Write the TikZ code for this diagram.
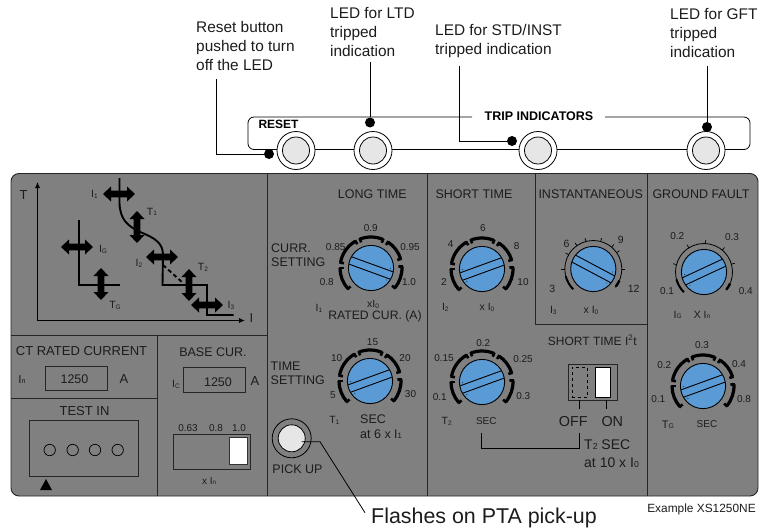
\documentclass[tikz,border=0pt]{standalone}
\usepackage{fontspec}
\usetikzlibrary{arrows.meta}
\setmainfont{Liberation Sans}
\definecolor{panel}{HTML}{808080}
\definecolor{knobblue}{HTML}{5B9BD5}
\definecolor{ledgrey}{HTML}{E6E6E6}
\definecolor{ink}{HTML}{1C1C1C}
\newcommand\Sb[1]{\raisebox{-0.05ex}{\scalebox{0.62}{#1}}}
\newcommand\lab[6][center]{\node[anchor=#1,inner sep=0pt,text=ink,font=\fontsize{#5}{#5}\selectfont,text height=#5*0.72pt,text depth=0pt] (#2) at (#3,#4) {#6};}
\newcommand\knobface[3]{%
 \fill[knobblue] (0,0) circle (22.6);
 \begin{scope}[rotate=#3]
  \draw[line width=.9pt] (-22,3.9) -- (22,3.9) (-22,-3.9) -- (22,-3.9);
  \fill (18.5,6.5) circle (.5) (18.5,-6) circle (.5);
 \end{scope}
 \draw[line width=.9pt] (0,0) circle (22.6);}
\newcommand\seg[2]{%
 \draw[line width=3.2pt] (#1:31) arc[start angle=#1,end angle=#2,radius=31];
 \draw[line width=2.6pt] (#1:32) -- (#1:27.5);
 \draw[line width=2.6pt] (#2:32) -- (#2:27.5);}
\newcommand\knobfive[3]{%
 \begin{scope}[shift={(#1,#2)},y=1pt]
  \seg{111}{67}\seg{57}{17}\seg{3}{-40}\seg{120}{170}\seg{180}{222}
  \knobface{#1}{#2}{#3}
 \end{scope}}
\newcommand\knobthin[4]{%
 \begin{scope}[shift={(#1,#2)},y=1pt]
  \draw[line width=.8pt] (225:28.5) arc[start angle=225,end angle=-40,radius=28.5];
  \draw[line width=2pt] (225:28.5) arc[start angle=225,end angle=195,radius=28.5];
  \draw[line width=2.4pt] (-38:28.5) arc[start angle=-38,end angle=-24,radius=28.5];
  \foreach \a in {#4} \draw[line width=.7pt] (\a:28.5) -- (\a:32);
  \knobface{#1}{#2}{#3}
 \end{scope}}
\newcommand\fat[3]{%
 \fill[shift={(#1,#2)},rotate=#3] (-16,0) -- (-8,-7.5) -- (-8,-3.3) -- (8,-3.3) -- (8,-7.5) -- (16,0) -- (8,7.5) -- (8,3.3) -- (-8,3.3) -- (-8,7.5) -- cycle;}
\tikzset{
 edge/.style={draw=black!85,line width=.9pt},
 curve/.style={line width=1.9pt,black},
 ledout/.style={circle,draw=black,line width=.8pt,fill=white,minimum size=38pt,inner sep=0pt},
 ledin/.style={circle,draw=black,line width=.8pt,fill=ledgrey,minimum size=27pt,inner sep=0pt},
 hit/.style={circle,fill=black,minimum size=10pt,inner sep=0pt},
 lead/.style={line width=.8pt,black}
}
\begin{document}
\begin{tikzpicture}[x=1pt,y=-1pt]
\useasboundingbox (0,0) rectangle (776,530);
% trip indicator strip
\draw[lead,rounded corners=6pt] (472,117) -- (248,117) -- (248,149.5) -- (750,149.5) -- (750,117) -- (605,117);
\node[font=\fontsize{12.5}{12.5}\selectfont\bfseries,inner sep=0pt,text height=9pt,text depth=0pt] (trip) at (539,116) {TRIP INDICATORS};
\node[font=\fontsize{12}{12}\selectfont\bfseries,inner sep=0pt,text height=8.6pt,text depth=0pt] (reset) at (278.5,124.6) {RESET};
\foreach \n/\x in {rst/296,ltd/373,std/538,gft/706}{
 \node[ledout] (\n o) at (\x,150.5) {};
 \node[ledin] (\n i) at (\x,150.5) {};
}
\node[hit] (drst) at (269,154) {};
\node[hit] (dltd) at (370,122.5) {};
\node[hit] (dstd) at (512,141) {};
\node[hit] (dgft) at (707,127) {};
% callouts
\node[anchor=north west,inner sep=0pt,align=left,text=ink,font=\fontsize{15.4}{19}\selectfont] (crst) at (196,21) {Reset button\\pushed to turn\\off the LED};
\node[anchor=north west,inner sep=0pt,align=left,text=ink,font=\fontsize{15.4}{19}\selectfont] (cltd) at (330,7.5) {LED for LTD\\tripped\\indication};
\node[anchor=north west,inner sep=0pt,align=left,text=ink,font=\fontsize{15.4}{19}\selectfont] (cstd) at (435,24.5) {LED for STD/INST\\tripped indication};
\node[anchor=north west,inner sep=0pt,align=left,text=ink,font=\fontsize{15.4}{19}\selectfont] (cgft) at (670,8.5) {LED for GFT\\tripped\\indication};
\coordinate (arst) at (216,79);
\coordinate (altd) at (370,62);
\coordinate (astd) at (459,66);
\coordinate (agft) at (707,66);
\draw[lead] (arst) |- (drst);
\draw[lead] (altd) -- (dltd);
\draw[lead] (astd) |- (dstd);
\draw[lead] (agft) -- (dgft);
% panel
\draw[edge,fill=panel,rounded corners=8pt] (11,173.5) rectangle (758,496);
\draw[edge] (267.5,173.5) -- (267.5,496);
\draw[edge] (427,173.5) -- (427,496);
\draw[edge] (647.5,173.5) -- (647.5,496);
\draw[edge] (535.5,173.5) -- (535.5,324.5) -- (647.5,324.5);
\draw[edge] (11,335) -- (267.5,335);
\draw[edge] (157.5,335) -- (157.5,496);
\draw[edge] (11,398) -- (157.5,398);
% graph
\draw[line width=.9pt,-{Latex[length=6pt,width=5pt]}] (37.5,320.5) -- (37.5,182);
\draw[line width=.9pt,-{Latex[length=6pt,width=5pt]}] (37.5,320.5) -- (245,320.5);
\draw[curve] (119.5,178) -- (119.5,203) .. controls (120,220) and (128,226) .. (140,232) .. controls (155,238) and (163,243) .. (163,255) -- (162.5,285) -- (207,285) -- (207,315) -- (233.5,315);
\draw[curve,dashed,dash pattern=on 4pt off 3pt] (163,265) -- (183,283);
\draw[curve] (79,220) -- (79,285) -- (119.5,285);
\fat{119}{194}{0}\fat{137}{227}{90}\fat{77}{247}{0}\fat{162}{257}{0}\fat{189}{285}{90}\fat{101}{284}{90}\fat{207}{305}{0}
\lab{lT}{23.5}{195}{13}{T}
\lab{lI}{251.5}{318}{13}{I}
\lab{gi1}{94.5}{194}{10.5}{I\Sb{1}}
\lab{gt1}{152}{211.5}{10.5}{T\Sb{1}}
\lab{gig}{103}{249}{10.5}{I\Sb{G}}
\lab{gi2}{139}{263}{10.5}{I\Sb{2}}
\lab{gt2}{203}{267}{10.5}{T\Sb{2}}
\lab{gtg}{115}{305}{10.5}{T\Sb{G}}
\lab{gi3}{231}{305}{10.5}{I\Sb{3}}
% CT rated
\lab{ct}{81.5}{351}{13}{CT RATED CURRENT}
\lab{ctin}{22}{379}{11.5}{I\Sb{n}}
\node[edge,minimum width=62.5pt,minimum height=24pt,inner sep=0pt] (ctbox) at (76.3,378) {};
\lab{ctv}{74.5}{379}{12.5}{1250}
\lab{cta}{124}{379}{13}{A}
% base
\lab{bc}{213}{352}{12.5}{BASE CUR.}
\lab{bic}{176}{384}{10.5}{I\Sb{C}}
\node[edge,minimum width=62.5pt,minimum height=24.5pt,inner sep=0pt] (bbox) at (214.3,380) {};
\lab{bv}{218}{382}{12.5}{1250}
\lab{ba}{255}{381}{13}{A}
\lab{s1}{188}{427.7}{10}{0.63}
\lab{s2}{216}{427.7}{10}{0.8}
\lab{s3}{239}{427.7}{10}{1.0}
\node[edge,minimum width=77pt,minimum height=35pt,inner sep=0pt] (sbox) at (212,451.7) {};
\node[draw=black!80,line width=.8pt,fill=white,minimum width=18pt,minimum height=27.5pt,inner sep=0pt] (sw) at (238.2,451) {};
\lab{xin}{209}{481}{10}{x I\Sb{n}}
% test in
\lab{ti}{84.5}{410.5}{13}{TEST IN}
\node[edge,minimum width=108.5pt,minimum height=56.5pt,inner sep=0pt] (tbox) at (83.7,448.3) {};
\foreach \n/\x in {a/49.7,b/72.7,c/95,d/117.7}
 \node[circle,draw=black,line width=.7pt,minimum size=11.4pt,inner sep=0pt] (t\n) at (\x,450) {};
\fill (40,490) -- (46,479) -- (52,490) -- cycle;
% long time
\lab{lt}{372.3}{194.3}{12.5}{LONG TIME}
\node[anchor=north west,inner sep=0pt,align=left,text=ink,font=\fontsize{12.5}{14.5}\selectfont] (curr) at (271,243.5) {CURR.\\SETTING};
\knobfive{371}{268}{-20}
\lab{a1}{370.7}{227.7}{10}{0.9}
\lab{a2}{335.7}{247.3}{10}{0.85}
\lab{a3}{410}{247}{10}{0.95}
\lab{a4}{326.7}{281.7}{10}{0.8}
\lab{a5}{409}{281.7}{10}{1.0}
\lab{a6}{373}{304}{10.5}{xI\Sb{0}}
\lab{a7}{319}{308}{10.5}{I\Sb{1}}
\lab{a8}{375}{315.5}{12.2}{RATED CUR. (A)}
\node[anchor=north west,inner sep=0pt,align=left,text=ink,font=\fontsize{12.5}{14.5}\selectfont] (tset) at (270.5,361.5) {TIME\\SETTING};
\knobfive{370}{381}{200}
\lab{b1}{372.5}{341.7}{10}{15}
\lab{b2}{336.7}{358}{10}{10}
\lab{b3}{405}{358}{10}{20}
\lab{b4}{333}{395}{10}{5}
\lab{b5}{410.5}{393.7}{10}{30}
\lab{b6}{334.3}{420}{10.5}{T\Sb{1}}
\lab[west]{b7}{360}{418.7}{12.5}{SEC}
\lab[west]{b8}{360}{434}{12.5}{at 6 x I\Sb{1}}
\node[circle,draw=black,line width=.8pt,minimum size=39pt,inner sep=0pt] (pu) at (291.7,438.3) {};
\node[circle,draw=black,line width=.8pt,fill=ledgrey,minimum size=27pt,inner sep=0pt] (pui) at (291.7,438.3) {};
\lab{pl}{297.5}{469}{12.5}{PICK UP}
\lab[west]{fl}{371}{516}{21.4}{Flashes on PTA pick-up}
\coordinate (fk) at (320,441.7);
\coordinate (fe) at (365,512.7);
\draw[lead] (pui.center) ++(10,3.4) -- (fk) -- (fe);
% short time
\lab{st}{474}{194.3}{12.5}{SHORT TIME}
\knobfive{482}{269}{200}
\lab{c1}{483}{227.7}{10}{6}
\lab{c2}{450.7}{244}{10}{4}
\lab{c3}{516.7}{245.7}{10}{8}
\lab{c4}{444}{281.7}{10}{2}
\lab{c5}{523}{281.7}{10}{10}
\lab{c6}{445.3}{307}{10.5}{I\Sb{2}}
\lab{c7}{487}{307}{10.5}{x I\Sb{0}}
\knobfive{482}{382}{200}
\lab{d1}{483.3}{343.3}{10}{0.2}
\lab{d2}{444}{358}{10}{0.15}
\lab{d3}{523}{358.7}{10}{0.25}
\lab{d4}{439.7}{396.7}{10}{0.1}
\lab{d5}{523.3}{395.7}{10}{0.3}
\lab{d6}{446.7}{421}{10.5}{T\Sb{2}}
\lab{d7}{486.3}{420.7}{10}{SEC}
% instantaneous
\lab{in}{590.7}{194.3}{12.5}{INSTANTANEOUS}
\knobthin{593.3}{269}{-28}{180,150,125,105,75,50,35,0}
\lab{e1}{566.5}{243.7}{10.5}{6}
\lab{e2}{620.7}{239.7}{10.5}{9}
\lab{e3}{552.3}{288.7}{10.5}{3}
\lab{e4}{633.7}{288.7}{10.5}{12}
\lab{e5}{553.3}{310}{10.5}{I\Sb{3}}
\lab{e6}{591}{310}{10.5}{x I\Sb{0}}
% short time I2t
\lab{sh}{592.3}{340.7}{12}{SHORT TIME I\textsuperscript{2}t}
\node[edge,minimum width=49pt,minimum height=36pt,inner sep=0pt] (swb) at (593.2,382) {};
\node[draw=black,line width=.8pt,fill=white,minimum width=15.4pt,minimum height=30pt,inner sep=0pt] (swon) at (603,382) {};
\node[draw=black,line width=.7pt,dashed,minimum width=15.7pt,minimum height=30pt,inner sep=0pt] (swoff) at (579.8,382) {};
\lab{of}{573.3}{421}{14.4}{OFF}
\lab{on}{612.3}{421}{14.4}{ON}
\coordinate (offt) at (579,409);
\coordinate (ont) at (606,409);
\draw[lead] (579,400) -- (offt);
\draw[lead] (606,400) -- (ont);
\coordinate (bl) at (481.7,433.3);
\coordinate (br) at (579,433.3);
\draw[lead] (bl) -- (481.7,448.3) -- (579,448.3) -- (br);
\lab[west]{t2a}{584}{444}{14}{T\Sb{2} SEC}
\lab[west]{t2b}{584}{462.5}{14}{at 10 x I\Sb{0}}
% ground fault
\lab{gf}{701}{194.3}{12.5}{GROUND FAULT}
\knobthin{704}{272}{205}{165,122,87,50,16}
\lab{f1}{677.3}{235.7}{10}{0.2}
\lab{f2}{732}{236.7}{10}{0.3}
\lab{f3}{667}{290.7}{10}{0.1}
\lab{f4}{745.7}{290.7}{10}{0.4}
\lab{f5}{677.7}{314.3}{10.5}{I\Sb{G}}
\lab{f6}{702}{314.3}{10.5}{X I\Sb{n}}
\knobfive{703}{386}{200}
\lab{h1}{702}{344.7}{10}{0.3}
\lab{h2}{664.3}{364.7}{10}{0.2}
\lab{h3}{739}{363.7}{10}{0.4}
\lab{h4}{658.3}{398.7}{10}{0.1}
\lab{h5}{744}{398.7}{10}{0.8}
\lab{h6}{668}{424.3}{11}{T\Sb{G}}
\lab{h7}{707}{423.7}{10}{SEC}
\lab{ex}{701.5}{508}{11.9}{Example XS1250NE}
\end{tikzpicture}
\end{document}
